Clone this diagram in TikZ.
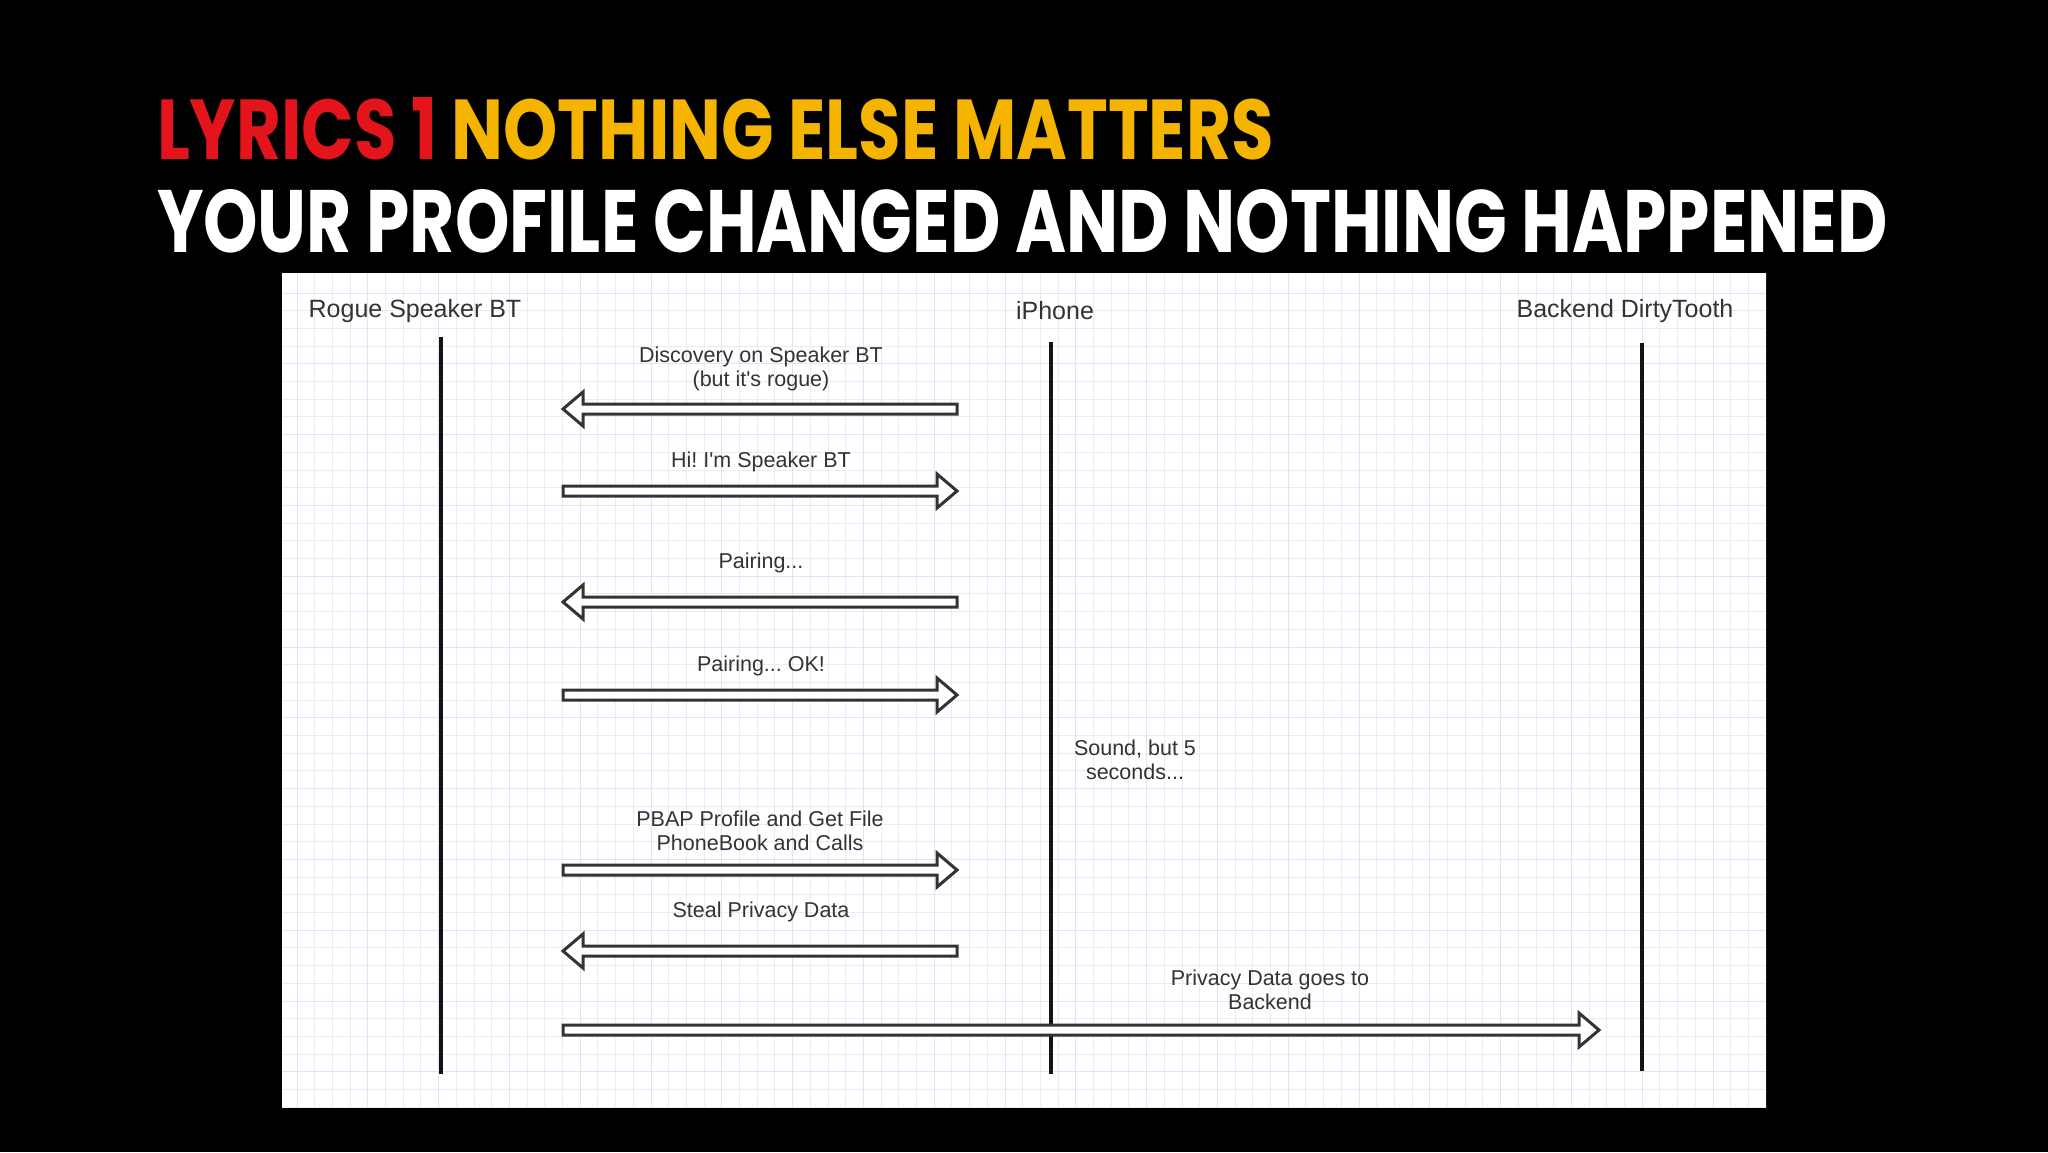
\documentclass[tikz,border=0pt]{standalone}
\usepackage{fontspec}
\setmainfont{Liberation Sans}
\newfontfamily\titlefont{Poppins}
\usetikzlibrary{calc}
\frenchspacing
\definecolor{ink}{HTML}{333333}
\definecolor{lifeink}{HTML}{141414}
\definecolor{gridminor}{HTML}{EAEAFA}
\definecolor{gridmajor}{HTML}{E2E2F8}
\definecolor{titlered}{HTML}{E3141B}
\definecolor{titleyellow}{HTML}{F4B400}
\newcommand\blockarrow[3]{%
  \draw[barrow] ($(#1)+(0,-5)$) -- ($(#2)+(#3,-5)$) -- ($(#2)+(#3,-17)$) -- (#2)
    -- ($(#2)+(#3,17)$) -- ($(#2)+(#3,5)$) -- ($(#1)+(0,5)$) -- cycle;}
\tikzset{
  barrow/.style={draw=ink, fill=white, line width=3pt, line join=miter},
  lifeline/.style={draw=lifeink, line width=3.5pt},
  header/.style={text=ink, font=\fontsize{25}{28}\selectfont, inner sep=0pt},
  msg/.style={text=ink, font=\fontsize{21.5}{23.5}\selectfont, align=center, inner sep=0pt},
  titletext/.style={anchor=north west, inner sep=0pt, outer sep=0pt}
}
\begin{document}
\begin{tikzpicture}[x=1pt,y=-1pt]
\fill[black] (0,0) rectangle (2048,1152);
\useasboundingbox (0,0) rectangle (2048,1152);

% titles
\node[titletext] (title1) at (157,97) {\resizebox{1116pt}{62pt}{\titlefont\bfseries\color{titlered}LYRICS 1 \color{titleyellow}NOTHING ELSE MATTERS}};
\node[titletext] (title2) at (157,189) {\resizebox{1730pt}{63pt}{\titlefont\bfseries\color{white}YOUR PROFILE CHANGED AND NOTHING HAPPENED}};

% panel
\fill[white] (282,273) rectangle (1766,1108);
\begin{scope}
\clip (282,273) rectangle (1766,1108);
\foreach \i in {0,...,84}{\pgfmathsetmacro\gx{297+17.7*\i}\draw[gridminor, line width=1pt] (\gx,273) -- (\gx,1108);}
\foreach \i in {0,...,47}{\pgfmathsetmacro\gy{293+17.7*\i}\draw[gridminor, line width=1pt] (282,\gy) -- (1766,\gy);}
\foreach \i in {0,...,21}{\pgfmathsetmacro\gx{297+70.8*\i}\draw[gridmajor, line width=1pt] (\gx,273) -- (\gx,1108);}
\foreach \i in {0,...,12}{\pgfmathsetmacro\gy{293+70.8*\i}\draw[gridmajor, line width=1pt] (282,\gy) -- (1766,\gy);}
\end{scope}

% headers
\node[header] (rogue) at (415,311) {Rogue Speaker BT};
\node[header] (iphone) at (1055,311) {iPhone};
\node[header] (backend) at (1625,311) {Backend DirtyTooth};

% lifelines
\coordinate (rogueTop) at (441,337);
\coordinate (rogueBot) at (441,1074);
\coordinate (iphoneTop) at (1051,342);
\coordinate (iphoneBot) at (1051,1074);
\coordinate (backTop) at (1642,343);
\coordinate (backBot) at (1642,1071);
\draw[lifeline] (rogueTop) -- (rogueBot);
\draw[lifeline] (iphoneTop) -- (iphoneBot);
\draw[lifeline] (backTop) -- (backBot);

% arrow end points
\coordinate (a1L) at (563,409); \coordinate (a1R) at (957,409);
\coordinate (a2L) at (563,491); \coordinate (a2R) at (957,491);
\coordinate (a3L) at (563,602); \coordinate (a3R) at (957,602);
\coordinate (a4L) at (563,695); \coordinate (a4R) at (957,695);
\coordinate (a5L) at (563,870); \coordinate (a5R) at (957,870);
\coordinate (a6L) at (563,951); \coordinate (a6R) at (957,951);
\coordinate (a7L) at (563,1030); \coordinate (a7R) at (1599,1030);

\blockarrow{a1R}{a1L}{20}
\blockarrow{a2L}{a2R}{-20}
\blockarrow{a3R}{a3L}{20}
\blockarrow{a4L}{a4R}{-20}
\blockarrow{a5L}{a5R}{-20}
\blockarrow{a6R}{a6L}{20}
\blockarrow{a7L}{a7R}{-20}

% labels
\node[msg] (m1) at (761,369) {Discovery on Speaker BT\\(but it\textquotesingle s rogue)};
\node[msg] (m2) at (761,462) {Hi! I\textquotesingle m Speaker BT};
\node[msg] (m3) at (761,563) {Pairing...};
\node[msg] (m4) at (761,666) {Pairing... OK!};
\node[msg] (m5) at (1135,760) {Sound, but 5\\seconds...};
\node[msg] (m6) at (760,831) {PBAP Profile and Get File\\PhoneBook and Calls};
\node[msg] (m7) at (761,912) {Steal Privacy Data};
\node[msg] (m8) at (1270,990) {Privacy Data goes to\\Backend};
\end{tikzpicture}
\end{document}
